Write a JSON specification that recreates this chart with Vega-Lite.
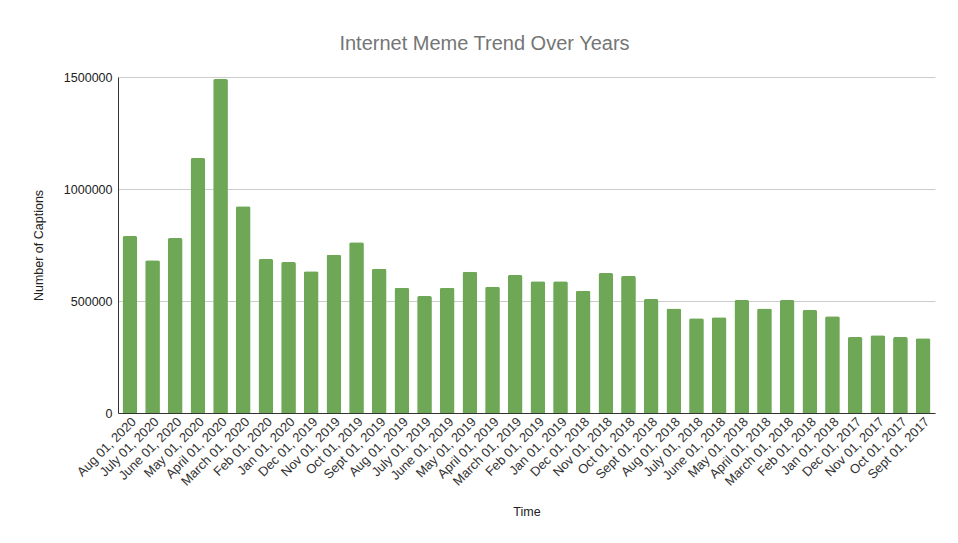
{
  "$schema": "https://vega.github.io/schema/vega-lite/v6.json",
  "width": 817,
  "height": 336,
  "autosize": {"type": "none"},
  "padding": {"left": 118, "top": 77, "right": 23, "bottom": 130},
  "background": "white",
  "title": {
    "text": "Internet Meme Trend Over Years",
    "font": "Liberation Sans",
    "fontSize": 20,
    "fontWeight": "normal",
    "color": "#757575",
    "anchor": "middle",
    "dx": -42,
    "offset": 17
  },
  "data": {
    "values": [
      {"month": "Aug 01, 2020", "captions": 790000},
      {"month": "July 01, 2020", "captions": 682000},
      {"month": "June 01, 2020", "captions": 781000},
      {"month": "May 01, 2020", "captions": 1138000},
      {"month": "April 01, 2020", "captions": 1491000},
      {"month": "March 01, 2020", "captions": 923000},
      {"month": "Feb 01, 2020", "captions": 687000},
      {"month": "Jan 01, 2020", "captions": 674000},
      {"month": "Dec 01, 2019", "captions": 633000},
      {"month": "Nov 01, 2019", "captions": 707000},
      {"month": "Oct 01, 2019", "captions": 762000},
      {"month": "Sept 01, 2019", "captions": 644000},
      {"month": "Aug 01, 2019", "captions": 559000},
      {"month": "July 01, 2019", "captions": 522000},
      {"month": "June 01, 2019", "captions": 559000},
      {"month": "May 01, 2019", "captions": 631000},
      {"month": "April 01, 2019", "captions": 564000},
      {"month": "March 01, 2019", "captions": 616000},
      {"month": "Feb 01, 2019", "captions": 588000},
      {"month": "Jan 01, 2019", "captions": 588000},
      {"month": "Dec 01, 2018", "captions": 546000},
      {"month": "Nov 01, 2018", "captions": 625000},
      {"month": "Oct 01, 2018", "captions": 612000},
      {"month": "Sept 01, 2018", "captions": 509000},
      {"month": "Aug 01, 2018", "captions": 467000},
      {"month": "July 01, 2018", "captions": 423000},
      {"month": "June 01, 2018", "captions": 427000},
      {"month": "May 01, 2018", "captions": 504000},
      {"month": "April 01, 2018", "captions": 466000},
      {"month": "March 01, 2018", "captions": 504000},
      {"month": "Feb 01, 2018", "captions": 460000},
      {"month": "Jan 01, 2018", "captions": 432000},
      {"month": "Dec 01, 2017", "captions": 339000},
      {"month": "Nov 01, 2017", "captions": 347000},
      {"month": "Oct 01, 2017", "captions": 339000},
      {"month": "Sept 01, 2017", "captions": 334000}
    ]
  },
  "mark": {
    "type": "bar",
    "color": "#6ea856",
    "cornerRadiusTopLeft": 2,
    "cornerRadiusTopRight": 2
  },
  "encoding": {
    "x": {
      "field": "month",
      "type": "nominal",
      "sort": null,
      "title": "Time",
      "scale": {"paddingInner": 0.35, "paddingOuter": 0.2},
      "axis": {
        "labelAngle": -45,
        "labelFont": "Liberation Sans",
        "labelFontSize": 13,
        "labelColor": "#333333",
        "labelPadding": 2,
        "ticks": false,
        "domainColor": "#333333",
        "titleFont": "Liberation Sans",
        "titleFontSize": 12.5,
        "titleFontWeight": "normal",
        "titleColor": "#222222",
        "titlePadding": 17
      }
    },
    "y": {
      "field": "captions",
      "type": "quantitative",
      "title": "Number of Captions",
      "scale": {"domain": [0, 1500000], "nice": false},
      "axis": {
        "values": [0, 500000, 1000000, 1500000],
        "format": "d",
        "labelFont": "Liberation Sans",
        "labelFontSize": 12.5,
        "labelColor": "#222222",
        "labelPadding": 6,
        "ticks": false,
        "domain": true,
        "domainColor": "#333333",
        "gridColor": "#cccccc",
        "titleFont": "Liberation Sans",
        "titleFontSize": 12.5,
        "titleFontWeight": "normal",
        "titleColor": "#222222",
        "titlePadding": 18
      }
    }
  },
  "config": {
    "view": {"stroke": null}
  }
}
